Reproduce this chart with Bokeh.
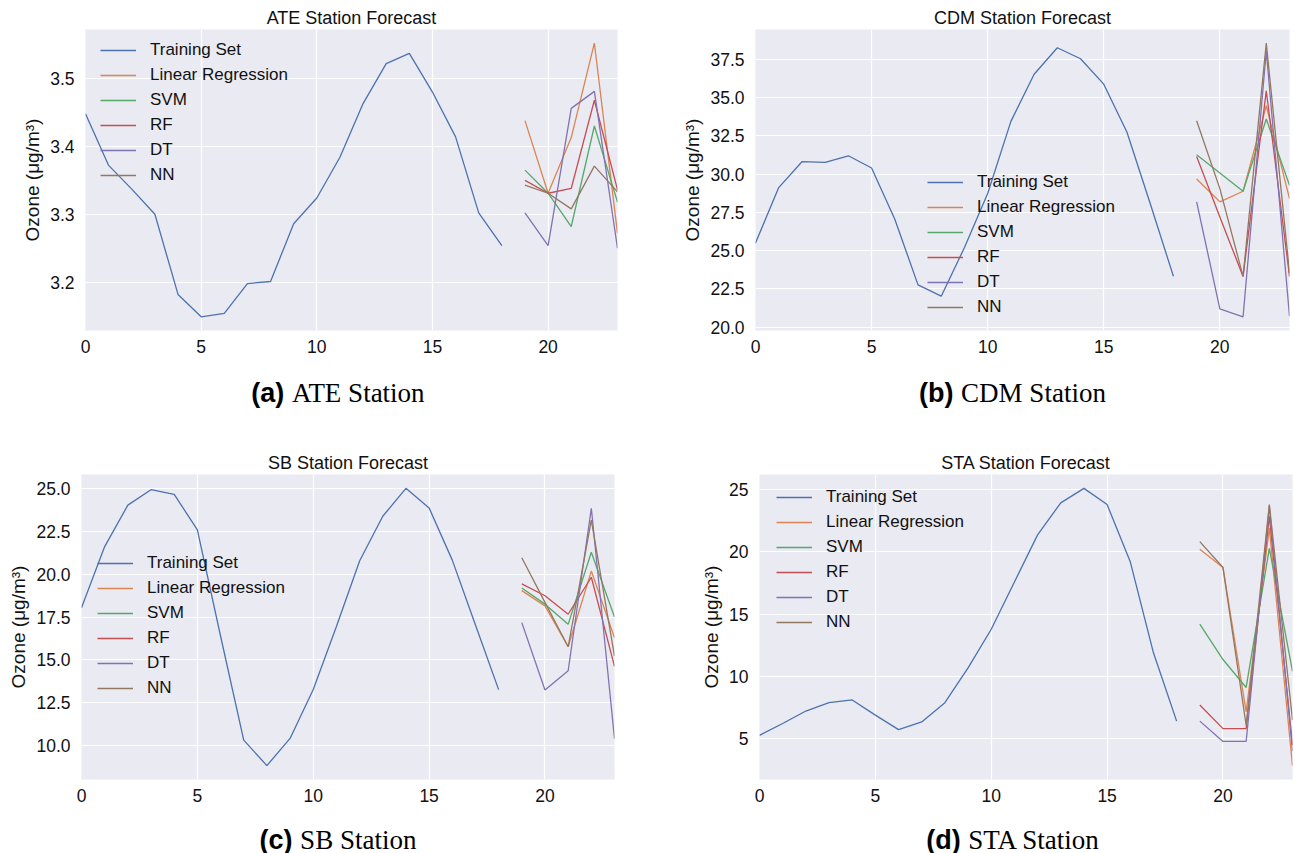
from bokeh.plotting import figure
from bokeh.models import Range1d, SingleIntervalTicker, NumeralTickFormatter, Div
from bokeh.layouts import column, row
from bokeh.embed import file_html
from bokeh.resources import INLINE

# ---------------- data ----------------
hours_train = list(range(19))
hours_fc = [19, 20, 21, 22, 23]
series_names = ["Linear Regression", "SVM", "RF", "DT", "NN"]

ate_train = [3.448, 3.372, 3.337, 3.300, 3.182, 3.149, 3.154, 3.198, 3.201, 3.286,
             3.324, 3.384, 3.463, 3.522, 3.537, 3.480, 3.414, 3.302, 3.254]
ate_lr = [3.438, 3.331, 3.413, 3.552, 3.272]
ate_svm = [3.365, 3.331, 3.282, 3.430, 3.318]
ate_rf = [3.350, 3.331, 3.338, 3.468, 3.336]
ate_dt = [3.302, 3.254, 3.456, 3.481, 3.250]
ate_nn = [3.343, 3.331, 3.308, 3.371, 3.333]

cdm_train = [25.49, 29.12, 30.81, 30.77, 31.20, 30.40, 27.05, 22.76, 22.02, 25.20,
             28.73, 33.45, 36.53, 38.26, 37.54, 35.88, 32.74, 28.08, 23.32]
cdm_lr = [29.68, 28.19, 28.88, 34.47, 28.40]
cdm_svm = [31.26, 30.07, 28.88, 33.60, 29.27]
cdm_rf = [31.15, 27.20, 23.31, 35.44, 23.31]
cdm_dt = [28.19, 21.19, 20.67, 38.04, 20.71]
cdm_nn = [33.49, 29.05, 23.31, 38.56, 23.53]

sb_train = [18.05, 21.62, 24.04, 24.94, 24.67, 22.60, 16.40, 10.32, 8.83, 10.42,
            13.27, 16.95, 20.78, 23.39, 25.02, 23.88, 20.83, 17.04, 13.27]
sb_lr = [19.05, 18.16, 15.77, 20.19, 16.30]
sb_svm = [19.20, 18.26, 17.08, 21.29, 17.51]
sb_rf = [19.44, 18.75, 17.67, 19.83, 14.63]
sb_dt = [17.18, 13.25, 14.37, 23.86, 10.40]
sb_nn = [20.97, 18.36, 15.77, 23.17, 15.22]

sta_train = [5.27, 6.22, 7.22, 7.89, 8.11, 6.89, 5.73, 6.35, 7.89, 10.68,
             13.78, 17.57, 21.35, 23.92, 25.08, 23.78, 19.19, 11.89, 6.41]
sta_lr = [20.19, 18.73, 7.16, 21.89, 2.84]
sta_svm = [14.19, 11.35, 9.11, 20.27, 10.41]
sta_rf = [7.70, 5.81, 5.81, 22.84, 4.50]
sta_dt = [6.41, 4.78, 4.78, 23.65, 4.00]
sta_nn = [20.81, 18.73, 6.08, 23.78, 6.50]

COLORS = ["#4C72B0", "#DD8452", "#55A868", "#C44E52", "#8172B3", "#937860"]
FONT = "Liberation Sans"
TEXT = "#111111"


def make_panel(title, train, fcs, frame_w, frame_h, left, right, top, bottom,
               y_interval, y_fmt, legend_loc):
    allv = list(train)
    for f in fcs:
        allv += f
    lo, hi = min(allv), max(allv)
    pad = 0.05 * (hi - lo)
    p = figure(frame_width=frame_w, frame_height=frame_h,
               min_border_left=left, min_border_right=right,
               min_border_top=top, min_border_bottom=bottom,
               x_range=Range1d(0, 23), y_range=Range1d(lo - pad, hi + pad),
               output_backend="svg", toolbar_location=None, title=title)
    p.background_fill_color = "#EAEAF2"
    p.border_fill_color = "white"
    p.outline_line_color = None
    p.title.text_font = FONT
    p.title.text_font_size = "18px"
    p.title.text_font_style = "normal"
    p.title.text_color = TEXT
    p.title.align = "center"
    p.title.standoff = 3
    p.title.offset = 0

    p.line(hours_train, train, line_color=COLORS[0], line_width=1.3,
           legend_label="Training Set")
    for i, (name, f) in enumerate(zip(series_names, fcs)):
        p.line(hours_fc, f, line_color=COLORS[i + 1], line_width=1.3,
               legend_label=name)

    p.xaxis.ticker = SingleIntervalTicker(interval=5, num_minor_ticks=0)
    p.yaxis.ticker = SingleIntervalTicker(interval=y_interval, num_minor_ticks=0)
    p.yaxis.formatter = NumeralTickFormatter(format=y_fmt)
    for ax in (p.xaxis, p.yaxis):
        ax.axis_line_color = None
        ax.major_tick_line_color = None
        ax.minor_tick_line_color = None
        ax.major_tick_out = 0
        ax.major_tick_in = 0
        ax.major_label_text_font = FONT
        ax.major_label_text_font_size = "17.5px"
        ax.major_label_text_color = TEXT
    p.xaxis.major_label_standoff = 9
    p.yaxis.major_label_standoff = 11
    p.yaxis.axis_label = "Ozone (\u03bcg/m\u00b3)"
    p.yaxis.axis_label_text_font = FONT
    p.yaxis.axis_label_text_font_size = "19px"
    p.yaxis.axis_label_text_font_style = "normal"
    p.yaxis.axis_label_text_color = TEXT
    p.yaxis.axis_label_standoff = 4

    p.grid.grid_line_color = "white"
    p.grid.grid_line_width = 1.2

    lg = p.legend[0]
    lg.location = legend_loc
    lg.padding = 0
    lg.margin = 0
    lg.spacing = 3
    lg.label_height = 22
    lg.glyph_height = 22
    lg.glyph_width = 36
    lg.label_standoff = 14
    lg.label_text_font = FONT
    lg.label_text_font_size = "17px"
    lg.label_text_color = TEXT
    lg.background_fill_alpha = 0
    lg.border_line_alpha = 0
    return p


def caption(letter, name, width, height, pad_top, pad_left):
    html = (f'<div style="width:{width}px;height:{height}px;box-sizing:border-box;'
            f'padding-top:{pad_top}px;padding-left:{pad_left}px;text-align:center;'
            f'font-size:27px;line-height:28px;color:black;white-space:nowrap;">'
            f'<span style="font-family:\'Liberation Sans\';font-weight:bold;">({letter})</span> '
            f'<span style="font-family:\'Liberation Serif\';">{name}</span></div>')
    return Div(text=html, width=width, height=height, margin=0)


pa = make_panel("ATE Station Forecast", ate_train,
                [ate_lr, ate_svm, ate_rf, ate_dt, ate_nn],
                532, 301, 85, 23, 29, 35, 0.1, "0.0", (15, 144))
pb = make_panel("CDM Station Forecast", cdm_train,
                [cdm_lr, cdm_svm, cdm_rf, cdm_dt, cdm_nn],
                534, 301, 115, 6, 29, 35, 2.5, "0.0", (172, 12))
pc = make_panel("SB Station Forecast", sb_train,
                [sb_lr, sb_svm, sb_rf, sb_dt, sb_nn],
                533, 305, 81, 26, 39, 35, 2.5, "0.0", (16, 80))
pd_ = make_panel("STA Station Forecast", sta_train,
                 [sta_lr, sta_svm, sta_rf, sta_dt, sta_nn],
                 533, 305, 119, 3, 39, 35, 5, "0", (17, 146))

ca = caption("a", "ATE Station", 640, 70, 14, 36)
cb = caption("b", "CDM Station", 655, 70, 14, 90)
cc = caption("c", "SB Station", 640, 39, 12, 36)
cd = caption("d", "STA Station", 655, 39, 12, 90)

layout = column(row(pa, pb), row(ca, cb), row(pc, pd_), row(cc, cd))

open("out.html", "w").write(file_html(layout, INLINE))
